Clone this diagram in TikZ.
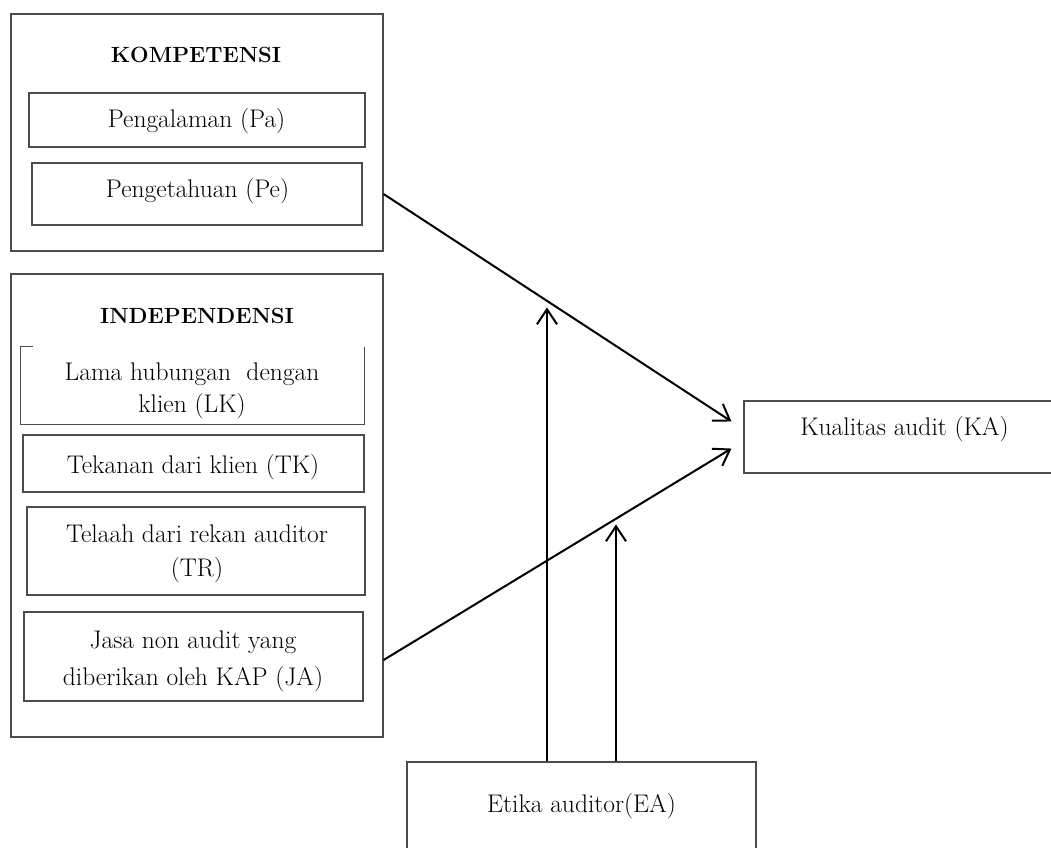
\documentclass[tikz,border=0pt]{standalone}
\usetikzlibrary{arrows.meta}
\begin{document}
\begin{tikzpicture}[x=1pt,y=-1pt,
  boxline/.style={draw=black!70, line width=1.1pt},
  box/.style={boxline, inner sep=0pt},
  frame/.style={inner sep=0pt},
  txt/.style={anchor=base, inner sep=0pt, font=\fontsize{25.5}{30}\selectfont},
  ttl/.style={anchor=base, inner sep=0pt, font=\fontsize{22}{26}\selectfont\bfseries},
  arr/.style={line width=2pt, -{Straight Barb[length=15pt,width=20pt]}}]
\useasboundingbox (0,0) rectangle (1051,847);
\clip (0,0) rectangle (1051,847);
\fill[white] (0,0) rectangle (1051,847);

% KOMPETENSI group
\node[box, minimum width=372pt, minimum height=237pt] (komp) at (197,132.5) {};
\node[box, minimum width=336pt, minimum height=54pt] (pa) at (197,120) {};
\node[box, minimum width=330pt, minimum height=62pt] (pe) at (197,194) {};
\node[ttl] (tkomp) at (196,62) {KOMPETENSI};
\node[txt] (tpa) at (196.5,127) {Pengalaman (Pa)};
\node[txt] (tpe) at (197.5,197) {Pengetahuan (Pe)};

% INDEPENDENSI group
\node[box, minimum width=372pt, minimum height=463pt] (indep) at (197,505.5) {};
\node[frame, minimum width=343pt, minimum height=77pt] (lk) at (192.5,385.5) {};
\draw[boxline] ([xshift=12pt]lk.north west) -- (lk.north west) -- (lk.south west)
  -- (lk.south east) -- (lk.north east);
\node[box, minimum width=341pt, minimum height=57pt] (tk) at (193.5,463.5) {};
\node[box, minimum width=338pt, minimum height=88pt] (tr) at (196,551) {};
\node[box, minimum width=339pt, minimum height=89pt] (ja) at (193.5,656.5) {};
\node[ttl] (tind) at (197,323) {INDEPENDENSI};
\node[txt] (tlk1) at (192,380) {Lama hubungan~ dengan};
\node[txt] (tlk2) at (192,412) {klien (LK)};
\node[txt] (ttk) at (193,473) {Tekanan dari klien (TK)};
\node[txt] (ttr1) at (197,542) {Telaah dari rekan auditor};
\node[txt] (ttr2) at (197,576) {(TR)};
\node[txt] (tja1) at (193,648) {Jasa non audit yang};
\node[txt] (tja2) at (193,685) {diberikan oleh KAP (JA)};

% Kualitas audit
\node[box, minimum width=321pt, minimum height=72pt] (ka) at (904.5,437) {};
\node[txt] (tka) at (904.5,435) {Kualitas audit (KA)};

% Etika auditor
\node[box, minimum width=349pt, minimum height=100pt] (ea) at (581.5,812) {};
\node[txt] (tea) at (581.5,812.5) {Etika auditor(EA)};

% connectors
\path (indep.east |- ja.center) ++(0,3.5) coordinate (jaout);
\draw[arr] (komp.east |- pe.center) -- ([xshift=-12pt,yshift=-21pt]ka.north west);
\draw[arr] (jaout) -- ([xshift=-12pt,yshift=25pt]ka.south west);
\draw[arr] ([xshift=-34.5pt]ea.north) -- ++(0,-454);
\draw[arr] ([xshift=34.5pt]ea.north) -- ++(0,-237);
\end{tikzpicture}
\end{document}
